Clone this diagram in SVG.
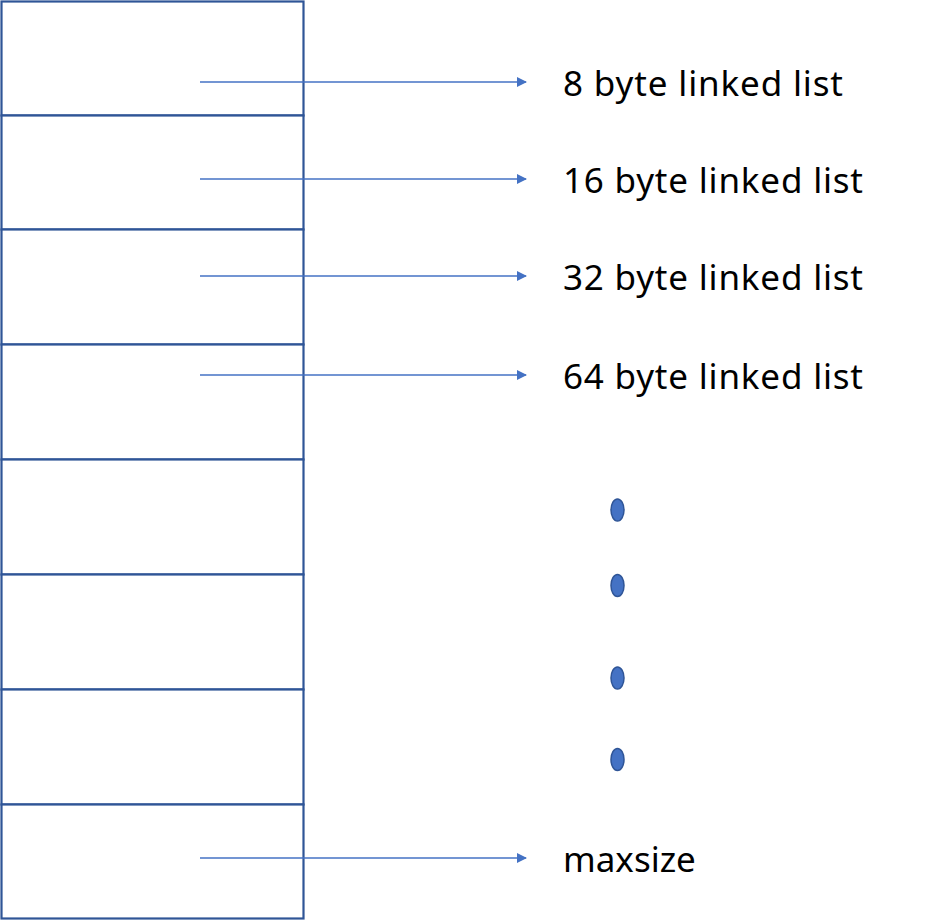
<svg xmlns="http://www.w3.org/2000/svg" width="934" height="920" viewBox="0 0 934 920">
<defs>
<style>
.cell{fill:#fff;stroke:#2F5597;stroke-width:2.2}
.arr{stroke:#4472C4;stroke-width:1.3;fill:none;marker-end:url(#ah)}
.lbl{font-family:"Noto Sans","Open Sans","DejaVu Sans",sans-serif;font-size:35px;fill:#000}
.dot{fill:#4472C4;stroke:#2F5597;stroke-width:1.5}
</style>
<marker id="ah" markerWidth="10" markerHeight="10" refX="9" refY="5" orient="auto" markerUnits="userSpaceOnUse">
<path d="M0,0 L10,5 L0,10 z" fill="#4472C4"/>
</marker>
</defs>
<g id="cells">
<rect id="cell1" class="cell" x="1.5" y="1.5" width="302" height="114"/>
<rect id="cell2" class="cell" x="1.5" y="115.5" width="302" height="114"/>
<rect id="cell3" class="cell" x="1.5" y="229.5" width="302" height="115"/>
<rect id="cell4" class="cell" x="1.5" y="344.5" width="302" height="115"/>
<rect id="cell5" class="cell" x="1.5" y="459.5" width="302" height="115"/>
<rect id="cell6" class="cell" x="1.5" y="574.5" width="302" height="115"/>
<rect id="cell7" class="cell" x="1.5" y="689.5" width="302" height="115"/>
<rect id="cell8" class="cell" x="1.5" y="804.5" width="302" height="114"/>
</g>
<g id="connectors">
<line class="arr" x1="200" y1="82" x2="526" y2="82"/>
<line class="arr" x1="200" y1="179" x2="526" y2="179"/>
<line class="arr" x1="200" y1="276" x2="526" y2="276"/>
<line class="arr" x1="200" y1="375" x2="526" y2="375"/>
<line class="arr" x1="200" y1="858" x2="526" y2="858"/>
</g>
<g id="label8"><text class="lbl" x="563" y="96" textLength="280" lengthAdjust="spacing">8 byte linked list</text></g>
<g id="label16"><text class="lbl" x="563" y="193" textLength="300" lengthAdjust="spacing">16 byte linked list</text></g>
<g id="label32"><text class="lbl" x="563" y="290" textLength="300" lengthAdjust="spacing">32 byte linked list</text></g>
<g id="label64"><text class="lbl" x="563" y="389" textLength="300" lengthAdjust="spacing">64 byte linked list</text></g>
<g id="labelmax"><text class="lbl" x="563" y="872">maxsize</text></g>
<g id="dots">
<ellipse class="dot" cx="617.5" cy="510" rx="6.5" ry="11"/>
<ellipse class="dot" cx="617.5" cy="585.5" rx="6.5" ry="11"/>
<ellipse class="dot" cx="617.5" cy="678" rx="6.5" ry="11"/>
<ellipse class="dot" cx="617.5" cy="759.5" rx="6.5" ry="11"/>
</g>
</svg>
